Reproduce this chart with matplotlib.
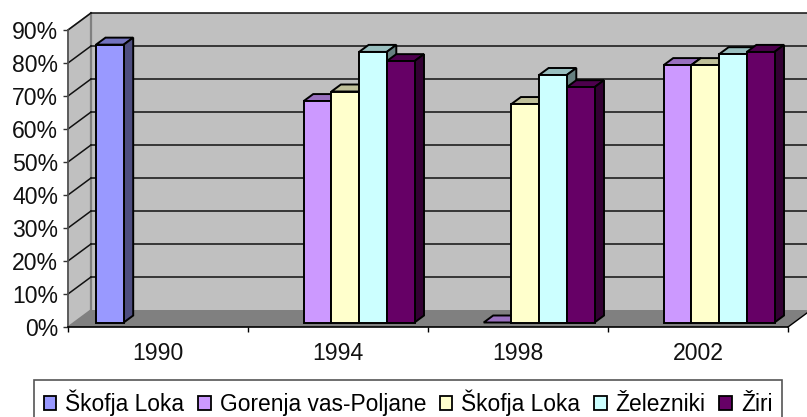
import matplotlib
matplotlib.use('Agg')
import matplotlib.pyplot as plt
from matplotlib.patches import Polygon, Patch

plt.rcParams['font.family'] = ['Liberation Sans', 'DejaVu Sans']

years = ['1990', '1994', '1998', '2002']
series_names = ['Škofja Loka', 'Gorenja vas-Poljane', 'Škofja Loka', 'Železniki', 'Žiri']
skofja_1 = [84.2, None, None, None]
gorenja = [None, 67.1, 0, 78]
skofja_2 = [None, 70, 66.2, 78]
zelezniki = [None, 82, 75, 81.3]
ziri = [None, 79.2, 71.3, 82]
series_values = [skofja_1, gorenja, skofja_2, zelezniki, ziri]

front_colors = ['#9999FF', '#CC99FF', '#FFFFCC', '#CCFFFF', '#660066']
top_colors = ['#7373BF', '#9970BF', '#BFBF99', '#99BFBF', '#4D004D']
side_colors = ['#4D4D80', '#664D80', '#808066', '#668080', '#330033']
y_ticks = [0, 10, 20, 30, 40, 50, 60, 70, 80, 90]

W, H = 807, 417
fig = plt.figure(figsize=(W / 100, H / 100), dpi=100, facecolor='white')
ax = fig.add_axes([68 / W, (H - 327) / H, 720 / W, 297 / H])
ax.set_xlim(0, 4)
ax.set_ylim(0, 90)
ax.patch.set_visible(False)

# pixel offsets turned into data units for the fake 3d depth
ux = 4 / 720
uy = 90 / 297


def shift(x, y, dx, dy):
    return (x + dx * ux, y + dy * uy)


def poly(pts, fc, ec='none', lw=0, z=1):
    ax.add_patch(Polygon(pts, closed=True, facecolor=fc, edgecolor=ec, linewidth=lw,
                         clip_on=False, zorder=z, joinstyle='miter'))


# walls and floor
wd = (23, 17)
poly([(0, 0), shift(0, 0, *wd), shift(0, 90, *wd), (0, 90)], '#C0C0C0', '#808080', 1.2)
poly([shift(0, 0, *wd), shift(4, 0, *wd), shift(4, 90, *wd), shift(0, 90, *wd)], '#C0C0C0')
poly([(0, 0), (4, 0), shift(4, 0, *wd), shift(0, 0, *wd)], '#808080')
ax.plot(*zip(shift(0, 0, *wd), shift(0, 90, *wd)), color='#808080', lw=1.6, clip_on=False, zorder=1.5)
ax.plot(*zip((4, 0), shift(4, 0, *wd)), color='black', lw=1, clip_on=False, zorder=1.5)

for v in y_ticks[1:]:
    col = '#111111'
    ax.plot(*zip((0, v), shift(0, v, *wd)), color=col, lw=1.1, clip_on=False, zorder=1.6)
    ax.plot(*zip(shift(0, v, *wd), shift(4, v, *wd)), color=col, lw=1.1, clip_on=False, zorder=1.6)

# bars
bar_w = 27.7 / 180
front = (6.5, 4.5)
back = (16, 11.5)
margin = 21.5 / 180

for i, vals in enumerate(series_values):
    for j, v in enumerate(vals):
        if v is None:
            continue
        x0 = j + margin + i * bar_w
        x1 = x0 + bar_w
        a = shift(x0, 0, *front)
        b = shift(x1, 0, *front)
        c = shift(x1, v, *front)
        d = shift(x0, v, *front)
        e = shift(x1, 0, *back)
        f = shift(x1, v, *back)
        g = shift(x0, v, *back)
        poly([d, c, f, g], top_colors[i], 'black', 1.4, z=3)
        if v > 0:
            poly([b, e, f, c], side_colors[i], 'black', 1.4, z=3)
            poly([a, b, c, d], front_colors[i], 'black', 1.4, z=3)

# axes
for s in ['top', 'right']:
    ax.spines[s].set_visible(False)
ax.spines['left'].set_color('#555555')
ax.spines['left'].set_linewidth(1.2)
ax.spines['bottom'].set_color('black')
ax.spines['bottom'].set_linewidth(1.2)
ax.spines['left'].set_zorder(5)
ax.spines['bottom'].set_zorder(5)

ax.set_yticks(y_ticks)
ax.set_yticklabels([f'{v}%' for v in y_ticks], fontsize=16.6, color='#111111')
ax.tick_params(axis='y', length=3.5, width=1, pad=3.5, color='#333333')
ax.set_xticks([0, 1, 2, 3, 4])
ax.set_xticklabels([])
ax.set_xticks([0.5, 1.5, 2.5, 3.5], minor=True)
ax.set_xticklabels(years, minor=True, fontsize=16.6, color='#111111')
ax.tick_params(axis='x', which='major', length=3.5, width=1, color='black')
ax.tick_params(axis='x', which='minor', length=0, pad=11)

# legend, its bottom edge runs off the picture like in the original
handles = [Patch(facecolor=c, edgecolor='black', linewidth=1.3) for c in front_colors]
leg = fig.legend(handles, series_names, ncol=5, loc='lower left',
                 bbox_to_anchor=(34 / W, -9 / H), fontsize=16.4, frameon=True, fancybox=False,
                 edgecolor='#555555', framealpha=1, handlelength=0.56, handleheight=0.56,
                 handletextpad=0.39, columnspacing=0.6, borderpad=0.42, borderaxespad=0)
leg.get_frame().set_linewidth(1.2)

fig.savefig('out.png', dpi=100)
